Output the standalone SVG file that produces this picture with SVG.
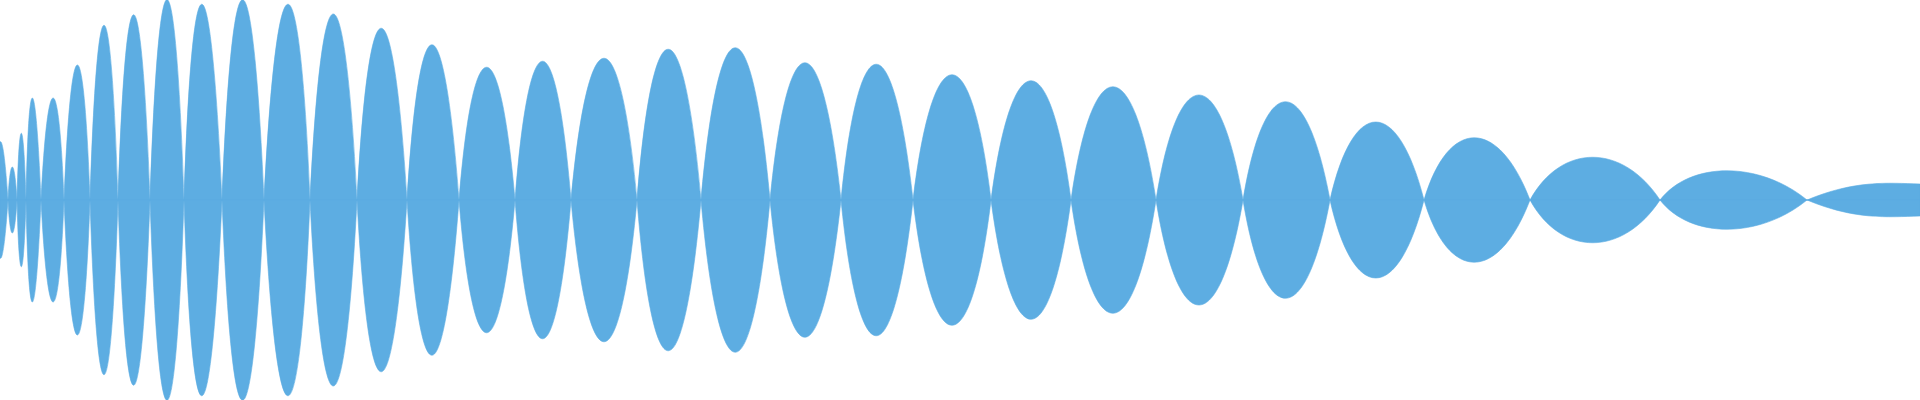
<svg xmlns="http://www.w3.org/2000/svg" xmlns:xlink="http://www.w3.org/1999/xlink" width="1920" height="400" viewBox="0 0 1920 400">
<style>.w{fill:#5dade2;stroke:#5dade2;stroke-width:0.6}</style>
<rect width="1920" height="400" fill="#ffffff"/>
<defs>
<path id="top" d="M0 200 L0 142 C3 138 6 170 8 200
C10.1 156 14.4 156 17 200
C19.1 111 23.4 111 26 200
C28.7 64 35.2 64 41 200
C47.9 64 58.7 64 64 200
C71.4 20 83.6 20 90 200
C97.4 -33 110.6 -33 118 200
C126 -47 141 -47 150 200
C159 -67 175 -67 184 200
C192.5 -61 210.3 -61 222 200
C232.6 -67 252.3 -67 264 200
C277.3 -61 299.3 -61 310 200
C322.2 -48 344.3 -48 357 200
C369.2 -29 392.7 -29 407 200
C419.7 -7 443.4 -7 459 200
C473.3 23 499.6 23 515 200
C529.3 15 555.6 15 571 200
C588.5 11 619.5 11 637 200
C652.9 -1 683 -1 701 200
C719 -3 751.4 -3 770 200
C788 17 821.4 17 841 200
C859 19 892.9 19 913 200
C933.1 33 970.9 33 991 200
C1012.2 41 1049.8 41 1071 200
C1092.7 49 1132.7 49 1156 200
C1178.3 60 1219.2 60 1243 200
C1264.7 69 1305.6 69 1330 200
C1353.3 96 1397.5 96 1424 200
C1448.4 117 1498.2 117 1530 200
C1561.3 143 1622.4 143 1660 200
C1690.2 161 1759.3 161 1807 200
C1855 180 1887 183 1920 184 L1920 200 Z"/>
</defs>
<use xlink:href="#top" class="w"/>
<use xlink:href="#top" class="w" transform="matrix(1 0 0 -1 0 400)"/>
</svg>
